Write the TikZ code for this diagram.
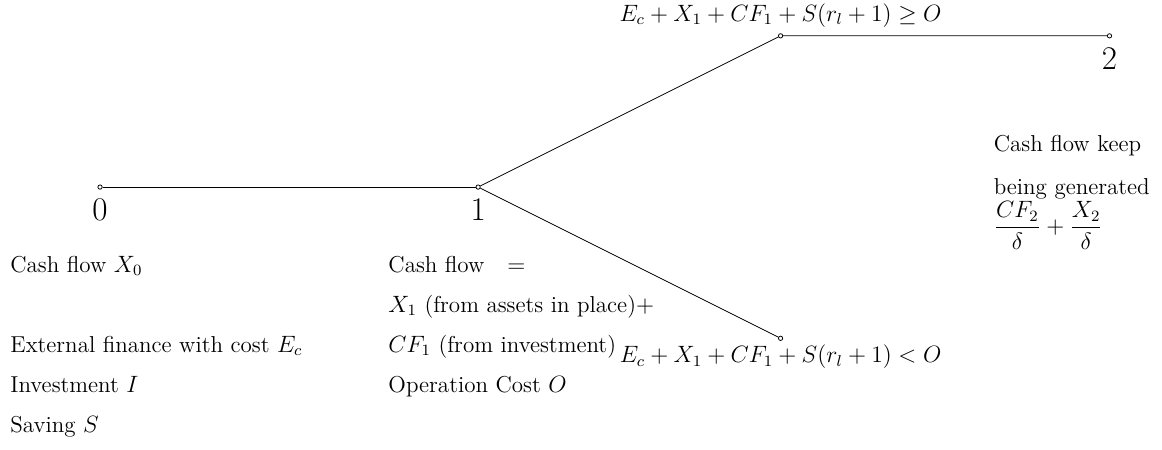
\documentclass[tikz,border=0pt]{standalone}
\usetikzlibrary{positioning}
\begin{document}
\begin{tikzpicture}[
        x=1.35cm, y=1.35cm,
        font=\fontsize{11.7}{14}\selectfont,
        dot/.style={circle, draw, fill=white, inner sep=0pt, minimum size=2.2pt},
        branch/.style={black},
        period/.style={font=\fontsize{16.8}{20}\selectfont, anchor=base, inner sep=0pt},
        line/.style={anchor=base west, inner sep=0pt},
        cond/.style={inner sep=3pt}
    ]
        \useasboundingbox (-1.786cm,-4.68cm) rectangle (18.96cm,3.34cm);

        % Dates and branches
        \node[dot] (d0) at (0,0) {};
        \node[dot] (d1) at (5,0) {};
        \node[dot] (up) at (9,2) {};
        \node[dot] (d2) at (13.35,2) {};
        \node[dot] (down) at (9,-2) {};
        \draw[branch] (d0) -- (d1);
        \draw[branch] (d1) -- (up) -- (d2);
        \draw[branch] (d1) -- (down);

        \node[period] (t0) at ([yshift=-0.6cm]d0.center) {0};
        \node[period] (t1) at ([yshift=-0.6cm]d1.center) {1};
        \node[period] (t2) at ([yshift=-0.6cm]d2.center) {2};

        % Conditions at date 1
        \node[cond, above=0pt of up] (good) {$E_c + X_1 + CF_1 + S(r_l+1) \geq O$};
        \node[cond, below=-1pt of down] (bad) {$E_c + X_1 + CF_1 + S(r_l+1) < O$};

        % Date 0
        \node[line] (a1) at (-1.607cm,-1.518cm) {Cash flow $X_0$};
        \node[line] (a3) at (-1.607cm,-2.946cm) {External finance with cost $E_c$};
        \node[line] (a4) at (-1.607cm,-3.661cm) {Investment $I$};
        \node[line] (a5) at (-1.607cm,-4.375cm) {Saving $S$};

        % Date 1
        \node[line] (b1) at (5.143cm,-1.518cm) {Cash flow\quad$=$};
        \node[line] (b2) at (5.143cm,-2.232cm) {$X_1$ (from assets in place)$+$};
        \node[line] (b3) at (5.143cm,-2.946cm) {$CF_1$ (from investment)};
        \node[line] (b4) at (5.143cm,-3.661cm) {Operation Cost $O$};

        % Date 2
        \node[line] (c1) at (15.95cm,0.64cm) {Cash flow keep};
        \node[line] (c2) at (15.95cm,-0.13cm) {being generated};
        \node[line] (c3) at (15.95cm,-0.83cm) {$\displaystyle\frac{CF_2}{\delta}+\frac{X_2}{\delta}$};

    \end{tikzpicture}
\end{document}
